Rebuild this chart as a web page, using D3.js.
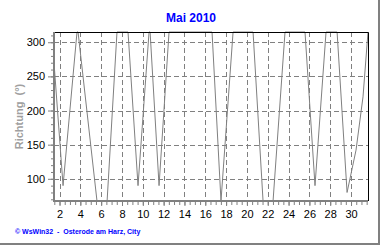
<!DOCTYPE html>
<html lang="de">
<head>
<meta charset="UTF-8">
<title>Mai 2010</title>
<style>
  body { margin: 0; background: #fff; }
  svg { display: block; font-family: "Liberation Sans", Arial, sans-serif; }
</style>
</head>
<body>
<svg width="380" height="245"></svg>
<script src="https://d3js.org/d3.v7.min.js"></script>
<script>
// Windrichtung Mai 2010 (Tag als Dezimalzahl, Richtung in Grad)
var tage = [1.47, 2.34, 3.68, 3.78, 5.6, 6.57, 7.52, 8.58, 9.54, 10.6, 10.7, 11.56, 12.52,
            16.65, 17.51, 18.67, 20.59, 21.55, 22.51, 23.66, 25.58, 26.54, 27.6, 28.66,
            29.62, 30.48, 31.15, 31.63];
var richtung = [270, 90, 315, 315, 67.5, 67.5, 315, 315, 90, 315, 315, 90, 315,
                315, 67.5, 315, 315, 67.5, 67.5, 315, 315, 90, 315, 315,
                80, 142, 220, 315];
var yTicks = [100, 150, 200, 250, 300];
var xTicks = [2, 4, 6, 8, 10, 12, 14, 16, 18, 20, 22, 24, 26, 28, 30];

var svg = d3.select("svg"),
    margin = {top: 32, right: 12, bottom: 44, left: 54},
    width = +svg.attr("width") - margin.left - margin.right,
    height = +svg.attr("height") - margin.top - margin.bottom;

var data = tage.map(function(t, i) { return {t: t, v: richtung[i]}; });

var x = d3.scaleLinear().domain(d3.extent(tage)).range([0, width]);
var y = d3.scaleLinear().domain(d3.extent(richtung)).range([height, 0]);

// Rahmen (Schatten rechts/unten)
svg.append("path")
    .attr("d", "M379,0V244H0")
    .attr("fill", "none")
    .attr("stroke", "#808080")
    .attr("stroke-width", 2);

svg.append("text")
    .attr("x", 191).attr("y", 22)
    .attr("text-anchor", "middle")
    .attr("fill", "#0000ff")
    .attr("font-size", 12)
    .attr("font-weight", "bold")
    .text("Mai 2010");

var g = svg.append("g")
    .attr("transform", "translate(" + margin.left + "," + margin.top + ")");

// Gitter
g.selectAll(".vgrid")
    .data(xTicks)
    .enter().append("line")
    .attr("x1", function(d) { return Math.round(x(d)) + 0.5; })
    .attr("x2", function(d) { return Math.round(x(d)) + 0.5; })
    .attr("y1", 0).attr("y2", height)
    .attr("stroke", "#808080")
    .attr("stroke-dasharray", "5,3");

g.selectAll(".hgrid")
    .data(yTicks)
    .enter().append("line")
    .attr("y1", function(d) { return Math.round(y(d)) + 0.5; })
    .attr("y2", function(d) { return Math.round(y(d)) + 0.5; })
    .attr("x1", 0).attr("x2", width)
    .attr("stroke", "#808080")
    .attr("stroke-dasharray", "5,3");

// Datenlinie
g.append("path")
    .datum(data)
    .attr("fill", "none")
    .attr("stroke", "#808080")
    .attr("stroke-width", 1)
    .attr("d", d3.line().x(function(d) { return x(d.t); }).y(function(d) { return y(d.v); }));

// Rahmen oben/rechts
g.append("path")
    .attr("d", "M0,0.5H" + (width + 0.5) + "V" + height)
    .attr("fill", "none")
    .attr("stroke", "#000");

// X-Achse: kleine Striche alle halben Tage
var xMinor = d3.range(Math.ceil(x.domain()[0] * 2) / 2, x.domain()[1], 0.5);
var xAxisMinor = d3.axisBottom(x).tickValues(xMinor).tickSize(4).tickFormat("");
var xAxis = d3.axisBottom(x).tickValues(xTicks).tickSize(5).tickPadding(4).tickFormat(d3.format("d"));

g.append("g")
    .attr("transform", "translate(0," + height + ")")
    .call(xAxisMinor)
    .call(function(s) { s.select(".domain").remove(); s.selectAll("line").attr("stroke", "#808080"); });

g.append("g")
    .attr("transform", "translate(0," + height + ")")
    .call(xAxis)
    .call(function(s) {
        s.select(".domain").remove();
        s.selectAll("line").attr("stroke", "#808080");
        s.selectAll("text").attr("font-size", 11).attr("fill", "#000")
            .attr("font-family", "\"Liberation Sans\", Arial, sans-serif");
    });

// Y-Achse: kleine Striche alle 10 Grad
var yMinor = d3.range(70, 320, 10);
g.append("g")
    .call(d3.axisLeft(y).tickValues(yMinor).tickSize(3).tickFormat(""))
    .call(function(s) { s.select(".domain").remove(); s.selectAll("line").attr("stroke", "#808080"); });

g.append("g")
    .call(d3.axisLeft(y).tickValues(yTicks).tickSize(6).tickPadding(3))
    .call(function(s) {
        s.select(".domain").remove();
        s.selectAll("line").attr("stroke", "#808080");
        s.selectAll("text").attr("font-size", 11).attr("fill", "#000")
            .attr("font-family", "\"Liberation Sans\", Arial, sans-serif");
    });

// Achsenlinien links/unten
g.append("path")
    .attr("d", "M0,0V" + height + "H" + width)
    .attr("fill", "none")
    .attr("stroke", "#808080")
    .attr("stroke-width", 2);

svg.append("text")
    .attr("transform", "translate(23," + (margin.top + height / 2) + ") rotate(-90)")
    .attr("text-anchor", "middle")
    .attr("fill", "#a0a0a0")
    .attr("font-size", 11)
    .attr("font-weight", "bold")
    .attr("xml:space", "preserve")
    .text("Richtung  (°)");

svg.append("text")
    .attr("x", 15).attr("y", 234)
    .attr("fill", "#0000ff")
    .attr("font-size", 7)
    .attr("font-weight", "bold")
    .attr("xml:space", "preserve")
    .text("© WsWin32  -  Osterode am Harz, City");
</script>
</body>
</html>
